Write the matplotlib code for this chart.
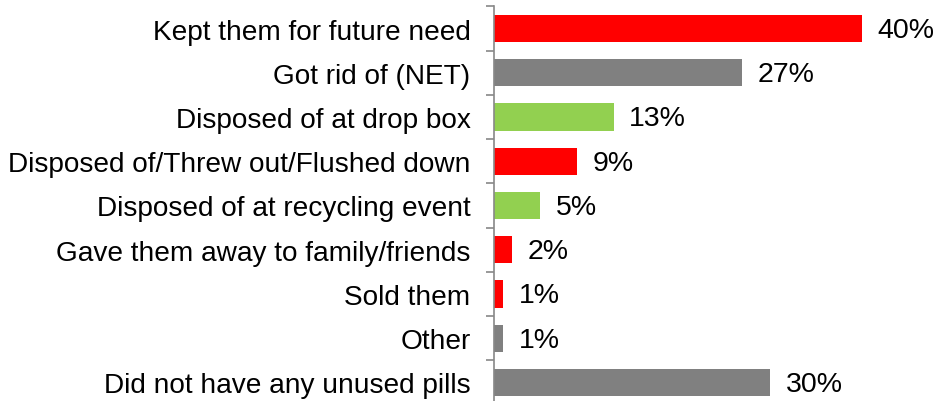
import numpy as np
import matplotlib.pyplot as plt

categories = ["Kept them for future need", "Got rid of (NET)", "Disposed of at drop box",
              "Disposed of/Threw out/Flushed down", "Disposed of at recycling event",
              "Gave them away to family/friends", "Sold them", "Other",
              "Did not have any unused pills"]
values = [40, 27, 13, 9, 5, 2, 1, 1, 30]
colors = ["#FF0000", "#808080", "#92D050", "#FF0000", "#92D050",
          "#FF0000", "#FF0000", "#808080", "#808080"]

plt.rcParams['font.family'] = ['Liberation Sans', 'DejaVu Sans']

fig = plt.figure(figsize=(9.4, 4.02), dpi=100)
ax = fig.add_axes([494 / 940, -3.6 / 402, 441.6 / 940, 398.2 / 402])

y = np.arange(len(categories))
ax.barh(y, values, height=0.62, color=colors)
ax.set_ylim(len(categories) - 0.5, -0.5)
ax.set_xlim(0, 48)

for yi, v in zip(y, values):
    ax.text(v + 1.7, yi + 0.03, f"{v}%", va="center", ha="left", fontsize=20.5)

ax.set_yticks(y)
ax.set_yticklabels(categories, fontsize=20.15)
ax.tick_params(axis="y", length=0, pad=17)
ax.set_yticks(np.arange(len(categories) + 1) - 0.5, minor=True)
ax.tick_params(axis="y", which="minor", length=6, color="#888888", width=1.2)
ax.set_xticks([])

for s in ["top", "right", "bottom"]:
    ax.spines[s].set_visible(False)
ax.spines["left"].set_color("#888888")
ax.spines["left"].set_linewidth(1.2)

fig.savefig("out.png", dpi=100)
